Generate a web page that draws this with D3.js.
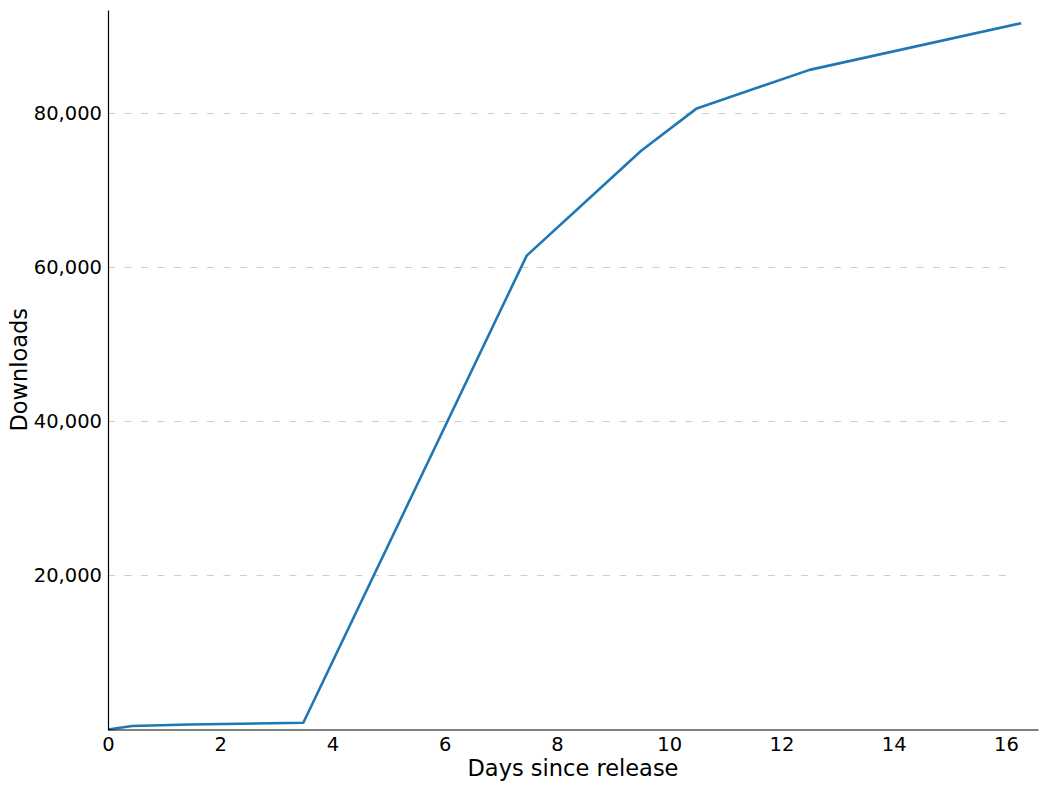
<!DOCTYPE html>
<html>
<head>
<meta charset="utf-8">
<script src="https://cdn.jsdelivr.net/npm/d3@7"></script>
<style>
  html, body { margin: 0; padding: 0; background: #fff; }
  svg { display: block; font-family: "DejaVu Sans", sans-serif; }
</style>
</head>
<body>
<svg id="chart" width="1048" height="791"></svg>
<script>
// Data
const days = [0, 0.43, 1.45, 3.48, 7.46, 9.5, 10.49, 12.5, 16.27];
const downloads = [0, 450, 650, 870, 61500, 75100, 80600, 85600, 91650];
const xTicks = [0, 2, 4, 6, 8, 10, 12, 14, 16];
const yTicks = [20000, 40000, 60000, 80000];
const xLabel = "Days since release";
const yLabel = "Downloads";

const svg = d3.select("#chart");
const mLeft = 108, mRight = 1038, mTop = 10, mBottom = 729.5;

const x = d3.scaleLinear().domain([0, 16.57]).range([mLeft, mRight]);
const y = d3.scaleLinear().domain([0, 93370]).range([mBottom, mTop]);

// gridlines
svg.append("g")
  .selectAll("line")
  .data(yTicks)
  .join("line")
  .attr("x1", x(0)).attr("x2", x(16))
  .attr("y1", d => Math.round(y(d)) + 0.5).attr("y2", d => Math.round(y(d)) + 0.5)
  .attr("stroke", "#cccccc")
  .attr("stroke-width", 1)
  .attr("stroke-dasharray", "7,9.5");

// line
const data = days.map((d, i) => ({ d, v: downloads[i] }));
svg.append("path")
  .datum(data)
  .attr("fill", "none")
  .attr("stroke", "#1f77b4")
  .attr("stroke-width", 2.6)
  .attr("stroke-linejoin", "round")
  .attr("d", d3.line().x(p => x(p.d)).y(p => y(p.v)));

// x axis
const xAxis = svg.append("g")
  .attr("transform", `translate(0,${mBottom})`)
  .call(d3.axisBottom(x).tickValues(xTicks).tickSize(0).tickPadding(7.5).tickFormat(d3.format("d")));
xAxis.select(".domain").attr("stroke", "#000").attr("stroke-width", 1.2);
xAxis.selectAll("text").attr("font-size", 19.5).attr("fill", "#000").attr("font-family", "DejaVu Sans");

// y axis
const yAxis = svg.append("g")
  .attr("transform", `translate(${mLeft},0)`)
  .call(d3.axisLeft(y).tickValues(yTicks).tickSize(0).tickPadding(6).tickFormat(d3.format(",")));
yAxis.select(".domain").attr("stroke", "#000").attr("stroke-width", 1.2);
yAxis.selectAll("text").attr("font-size", 19.5).attr("fill", "#000").attr("font-family", "DejaVu Sans");

// axis titles
svg.append("text")
  .attr("x", (mLeft + mRight) / 2).attr("y", 776)
  .attr("text-anchor", "middle")
  .attr("font-size", 22.5)
  .text(xLabel);

svg.append("text")
  .attr("transform", `translate(27,${(mTop + mBottom) / 2}) rotate(-90)`)
  .attr("text-anchor", "middle")
  .attr("font-size", 22.5)
  .text(yLabel);
</script>
</body>
</html>
